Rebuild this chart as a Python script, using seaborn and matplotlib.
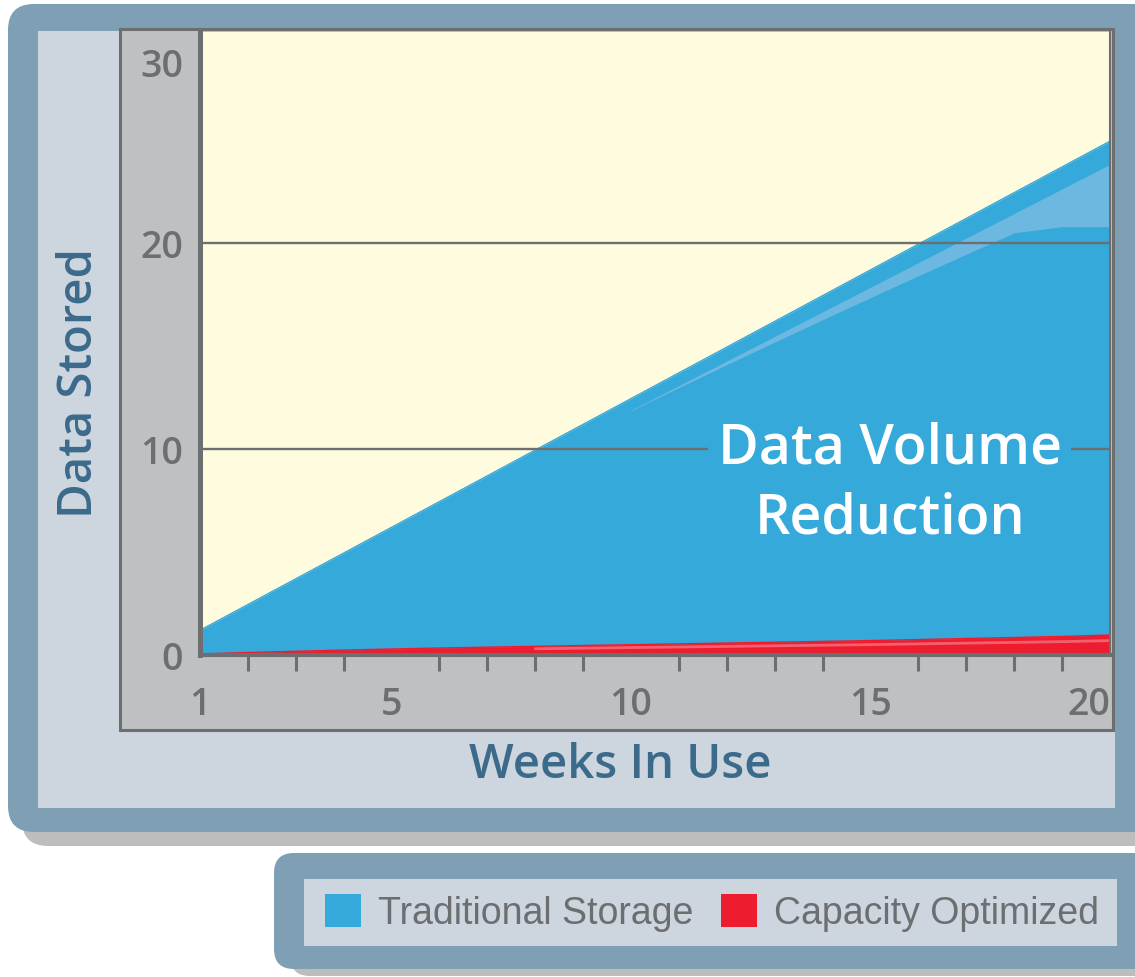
import numpy as np
import pandas as pd
import matplotlib
matplotlib.use("Agg")
import matplotlib.pyplot as plt
from matplotlib.patches import FancyBboxPatch, Rectangle, Patch
from matplotlib import font_manager
import matplotlib.transforms as mtransforms
import seaborn as sns

# ---------------- data ----------------
weeks = [1, 2, 3, 4, 5, 6, 7, 8, 9, 10, 11, 12, 13, 14, 15, 16, 17, 18, 19, 20]
traditional = [1.2, 2.45, 3.7, 4.95, 6.2, 7.45, 8.7, 9.95, 11.2, 12.45,
               13.7, 14.95, 16.2, 17.45, 18.7, 19.95, 21.2, 22.45, 23.7, 24.95]
capacity = [0.05, 0.12, 0.18, 0.24, 0.29, 0.34, 0.38, 0.42, 0.46, 0.5,
            0.54, 0.58, 0.62, 0.66, 0.7, 0.75, 0.8, 0.85, 0.9, 0.97]
x_tick_labels = ["1", "5", "10", "15", "20"]
x_tick_values = [1, 5, 10, 15, 20]
y_tick_values = [0, 10, 20, 30]
series_names = ["Traditional Storage", "Capacity Optimized"]

df = pd.DataFrame({"week": weeks, "traditional": traditional, "capacity": capacity})

# ---------------- colours ----------------
BLUE = "#35a9da"
BLUE_HL = "#6cb8e0"
RED = "#ed1c2e"
YELLOW = "#fffbdf"
DARK = "#6d6e70"
FRAME = "#7e9fb4"
PANEL = "#cdd5df"
GRAYBOX = "#bfc0c2"
SHADOW = "#bdbdbd"
TITLE_BLUE = "#3b6a8b"

sns.set_theme(style="white")
names = {f.name for f in font_manager.fontManager.ttflist}
MAIN_FONT = "Open Sans" if "Open Sans" in names else "DejaVu Sans"
NARROW_FONT = "Liberation Sans Narrow" if "Liberation Sans Narrow" in names else "Liberation Sans"
plt.rcParams["font.family"] = [MAIN_FONT, "DejaVu Sans"]

W, H = 1135, 977
fig = plt.figure(figsize=(W / 100, H / 100), dpi=100)
fig.patch.set_facecolor("white")

# ---------------- background decoration (pixel coords) ----------------
bg = fig.add_axes([0, 0, 1, 1], zorder=0)
bg.set_xlim(0, W)
bg.set_ylim(0, H)
bg.axis("off")


def rbox(x0, y0, x1, y1, color, r=0, ec="none", lw=0, z=1):
    yb = H - y1
    if r > 0:
        p = FancyBboxPatch((x0, yb), x1 - x0, y1 - y0,
                           boxstyle=f"round,pad=0,rounding_size={r}",
                           facecolor=color, edgecolor=ec, linewidth=lw, zorder=z)
    else:
        p = Rectangle((x0, yb), x1 - x0, y1 - y0, facecolor=color,
                      edgecolor=ec, linewidth=lw, zorder=z)
    bg.add_patch(p)


# main frame
rbox(22, 18, 1190, 846, SHADOW, r=26, z=1)
rbox(8, 4, 1180, 832, FRAME, r=26, z=2)
rbox(38, 31, 1115, 808, PANEL, z=3)
rbox(120, 29, 1113, 730, GRAYBOX, ec=DARK, lw=2.2, z=4)
# legend frame
rbox(290, 860, 1190, 976, SHADOW, r=20, z=1)
rbox(274, 853, 1180, 969, FRAME, r=20, z=2)
rbox(304, 879, 1117, 946, PANEL, z=3)

# ---------------- main axes ----------------
ax_l, ax_r, ax_t, ax_b = 200, 1110, 32, 655
ax = fig.add_axes([ax_l / W, (H - ax_b) / H, (ax_r - ax_l) / W, (ax_b - ax_t) / H], zorder=2)
ax.set_facecolor(YELLOW)

ax.fill_between(df["week"], 0, df["traditional"], color=BLUE, lw=0, zorder=1)
sns.lineplot(data=df, x="week", y="traditional", color=BLUE, lw=1, ax=ax, zorder=1)

# soft highlight streak on the blue area
hl = df[df["week"] >= 10]
hl_upper = hl["traditional"] * 0.955
hl_lower = np.minimum(hl["traditional"] * (0.955 - 0.005 * (hl["week"] - 9.6)), 20.8)
ax.fill_between(hl["week"], hl_lower, hl_upper, color=BLUE_HL, lw=0, zorder=1.5)

ax.fill_between(df["week"], 0, df["capacity"], color=RED, lw=0, zorder=2)
sns.lineplot(data=df, x="week", y="capacity", color=RED, lw=1, ax=ax, zorder=2)
hr = df[df["week"] >= 8]
sns.lineplot(x=hr["week"], y=hr["capacity"] * 0.72, color="white", alpha=0.3, lw=2, ax=ax, zorder=2.5)

for yv in (10, 20):
    ax.axhline(yv, color=DARK, lw=1.7, zorder=3)

ax.text(15.4, 10, "Data Volume", ha="center", va="center", color="white",
        fontsize=40, fontweight="semibold", zorder=4,
        bbox=dict(facecolor=BLUE, edgecolor="none", pad=7))
ax.text(15.4, 6.6, "Reduction", ha="center", va="center", color="white",
        fontsize=40, fontweight="semibold", zorder=4)

ax.set_xlim(1, 20)
ax.set_ylim(0, 30.25)

ax.set_xticks(x_tick_values)
ax.set_xticklabels(x_tick_labels)
ax.set_xticks(weeks[:-1], minor=True)
ax.tick_params(axis="x", which="major", length=0, pad=22, labelsize=27, labelcolor=DARK)
ax.tick_params(axis="x", which="minor", bottom=True, direction="out", length=11.5, width=2.2, color=DARK)
ax.xaxis.get_majorticklabels()[-1].set_ha("right")

ax.set_yticks(y_tick_values)
ax.set_yticklabels([str(v) for v in y_tick_values])
ax.tick_params(axis="y", which="major", length=0, pad=12, labelsize=27, labelcolor=DARK)
top_lab = ax.yaxis.get_majorticklabels()[-1]
top_lab.set_va("top")
top_lab.set_transform(top_lab.get_transform() +
                      mtransforms.ScaledTranslation(0, -8 / 72, fig.dpi_scale_trans))
for lab in ax.get_xticklabels() + ax.get_yticklabels():
    lab.set_fontweight("semibold")

ax.spines["top"].set_visible(False)
ax.spines["left"].set_color(DARK)
ax.spines["left"].set_linewidth(3.6)
ax.spines["bottom"].set_color(DARK)
ax.spines["bottom"].set_linewidth(3.0)
ax.spines["right"].set_color(DARK)
ax.spines["right"].set_linewidth(1.5)

ax.set_xlabel("Weeks In Use", fontsize=34, color=TITLE_BLUE, fontweight="semibold")
ax.set_ylabel("Data Stored", fontsize=34, color=TITLE_BLUE, fontweight="semibold")
ax.xaxis.set_label_coords((620 - ax_l) / (ax_r - ax_l), (ax_b - 765) / (ax_b - ax_t))
ax.xaxis.label.set_va("center")
ax.yaxis.set_label_coords((80 - ax_l) / (ax_r - ax_l), (ax_b - 383) / (ax_b - ax_t))
ax.yaxis.label.set_va("center")
ax.grid(False)

# ---------------- legend ----------------
handles = [Patch(facecolor=BLUE, edgecolor="none"), Patch(facecolor=RED, edgecolor="none")]
leg = fig.legend(handles, series_names, loc="center", ncol=2, frameon=False,
                 bbox_to_anchor=(712 / W, 1 - 913 / H),
                 prop={"family": [NARROW_FONT, "DejaVu Sans"], "size": 27},
                 handlelength=0.95, handleheight=0.95, handletextpad=0.45,
                 columnspacing=0.75, borderpad=0)
for t in leg.get_texts():
    t.set_color(DARK)

fig.savefig("out.png", dpi=100, facecolor=fig.get_facecolor())
